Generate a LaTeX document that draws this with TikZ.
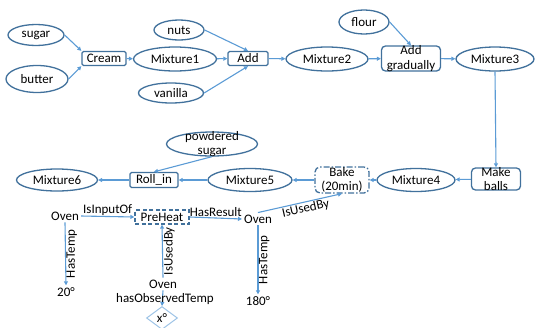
\documentclass[tikz,border=0pt]{standalone}
\usepackage{fontspec}
\setmainfont{Carlito}
\usetikzlibrary{shapes.geometric,arrows.meta}
\definecolor{rimblue}{HTML}{41719C}
\definecolor{linkblue}{HTML}{5B9BD5}
\definecolor{tipblue}{HTML}{9DC3E6}
\tikzset{
  ingr/.style={ellipse, draw=rimblue, line width=1.3pt, fill=white, inner sep=0pt},
  opbox/.style={rectangle, draw=rimblue, line width=1.3pt, fill=white, rounded corners=1.5pt, inner sep=0pt},
  stagebox/.style={rectangle, draw=rimblue, line width=1.3pt, fill=white, rounded corners=4pt, inner sep=0pt},
  bakebox/.style={rectangle, draw=rimblue, line width=1.3pt, fill=white, rounded corners=5pt, inner sep=0pt,
    dash pattern=on 6pt off 2pt on 1.5pt off 2pt},
  phasebox/.style={rectangle, draw=rimblue, line width=1.3pt, fill=white, inner sep=0pt,
    dash pattern=on 4pt off 2.5pt},
  twoline/.style={align=center, inner sep=0pt, font=\fontsize{13}{14.5}\selectfont},
  plain/.style={inner sep=2pt},
  link/.style={draw=linkblue, line width=1.1pt, -{Triangle[length=4pt,width=4pt]}},
  rel/.style={inner sep=0.6pt},
}
\begin{document}
\begin{tikzpicture}[x=1pt, y=-1pt, font=\fontsize{13}{15}\selectfont]
\useasboundingbox (0,0) rectangle (535,327);

% ingredients and mixing steps
\node[ingr, minimum width=56, minimum height=21] (sugar) at (36,35) {sugar};
\node[ingr, minimum width=62, minimum height=27] (butter) at (37,79) {butter};
\node[opbox, minimum width=44, minimum height=14] (cream) at (104,58.5) {Cream};
\node[ingr, minimum width=83, minimum height=24] (mix1) at (175,59) {Mixture1};
\node[ingr, minimum width=50, minimum height=20] (nuts) at (179,30) {nuts};
\node[ingr, minimum width=65, minimum height=20] (vanilla) at (171,93) {vanilla};
\node[opbox, minimum width=40, minimum height=14] (add) at (248,58.5) {Add};
\node[ingr, minimum width=82, minimum height=24] (mix2) at (327,59) {Mixture2};
\node[ingr, minimum width=50, minimum height=24] (flour) at (364,22) {flour};
\node[stagebox, minimum width=59, minimum height=25,
      label={[twoline]center:{Add\\gradually}}] (addgr) at (411,58.5) {};
\node[ingr, minimum width=78, minimum height=24] (mix3) at (495,59) {Mixture3};

% second row, running right to left
\node[stagebox, minimum width=49, minimum height=22,
      label={[twoline]center:{Make\\balls}}] (balls) at (496,179) {};
\node[ingr, minimum width=78, minimum height=23] (mix4) at (416,180) {Mixture4};
\node[bakebox, minimum width=54, minimum height=26,
      label={[twoline]center:{Bake\\(20min)}}] (bake) at (342,180) {};
\node[ingr, minimum width=84, minimum height=23] (mix5) at (250,180) {Mixture5};
\node[opbox, minimum width=48, minimum height=15] (roll) at (154,180) {Roll\_in};
\node[ingr, minimum width=81, minimum height=22] (mix6) at (57,180) {Mixture6};
\node[ingr, minimum width=91, minimum height=24,
      label={[twoline]center:{powdered\\sugar}}] (powder) at (212,144) {};

% oven details
\node[plain] (ovenA) at (65,216) {Oven};
\node[phasebox, minimum width=54, minimum height=14] (preheat) at (162,217) {PreHeat};
\node[plain] (ovenB) at (258,219) {Oven};
\node[plain] (t20) at (66,292) {20°};
\node[plain] (t180) at (258,301) {180°};
\node[plain] (ovenC) at (163,284) {Oven};
\node[diamond, draw=tipblue, line width=1pt, minimum width=31, minimum height=23, inner sep=0pt] (dx) at (162,318) {x°};

% connectors of the recipe
\draw[link] (sugar.east) -- (cream.north west);
\draw[link] (butter.east) -- (cream.south west);
\draw[link] (cream) -- (mix1);
\draw[link] (mix1) -- (add);
\draw[link] (nuts.east) -- (add.north);
\draw[link] (vanilla.east) -- (add.south);
\draw[link] (add) -- (mix2);
\draw[link] (mix2) -- (addgr);
\draw[link] (flour.east) -- (addgr.north);
\draw[link] (addgr) -- (mix3);
\draw[link] (mix3.south) -- (balls.north);
\draw[link] (balls) -- (mix4);
\draw[link] (mix4) -- (bake);
\draw[link] (bake) -- (mix5);
\draw[link] (mix5) -- (roll);
\draw[link] (roll) -- (mix6);
\draw[link] (powder.south) -- (roll.north);

% connectors of the oven relations
\draw[link] (ovenA.east) -- node[rel, above] {IsInputOf} (preheat.west);
\draw[link] (preheat.east) -- node[rel, above] {HasResult} (ovenB.west);
\draw[link] (ovenB.north) -- node[rel, below, sloped, pos=0.55] {IsUsedBy} (bake.south);
\draw[link] (ovenA.south) -- node[rel, midway, rotate=90, anchor=north] {HasTemp} (t20.north);
\draw[link] (ovenB.south) -- node[rel, midway, rotate=90, anchor=north] {HasTemp} (t180.north);
\draw[link] (ovenC.north) -- node[rel, midway, rotate=90, anchor=north] {IsUsedBy} (preheat.south);
\draw[link] (ovenC.south) -- (dx.north);
\node[inner sep=0pt] (obstemp) at (165,299) {hasObservedTemp};
\end{tikzpicture}
\end{document}
